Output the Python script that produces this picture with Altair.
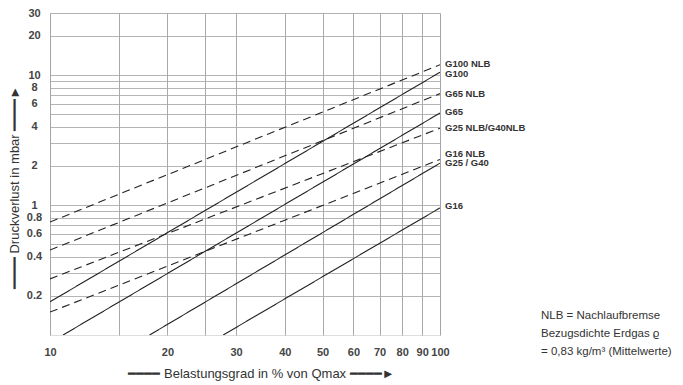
import altair as alt
import pandas as pd

# line endpoints (log-log, so straight lines)
series = ["G100", "G65", "G25 / G40", "G16", "G100 NLB", "G65 NLB", "G25 NLB/G40NLB", "G16 NLB"]
kind = ["solid", "solid", "solid", "solid", "dashed", "dashed", "dashed", "dashed"]
x_start = [10, 10.8, 18.0, 27.8, 10, 10, 10, 10]
y_start = [0.18, 0.1, 0.1, 0.1, 0.74, 0.45, 0.27, 0.15]
x_end = [100, 100, 100, 100, 100, 100, 100, 100]
y_end = [10.5, 5.1, 2.1, 0.95, 12.0, 7.2, 3.9, 2.24]

# right-hand labels
label_text = ["G100", "G65", "G25 / G40", "G16", "G100  NLB", "G65  NLB", "G25 NLB/G40NLB", "G16  NLB"]
label_y = [10.2, 5.22, 2.09, 0.98, 12.1, 7.16, 3.94, 2.49]

x_grid = [10, 15, 20, 25, 30, 40, 50, 60, 70, 80, 90, 100]
x_labels = [10, 20, 30, 40, 50, 60, 70, 80, 90, 100]
y_grid = [0.2, 0.3, 0.4, 0.5, 0.6, 0.7, 0.8, 0.9, 1, 2, 3, 4, 5, 6, 7, 8, 9, 10, 20, 30]
y_labels = [0.2, 0.4, 0.6, 0.8, 1, 2, 4, 6, 8, 10, 20, 30]

note = "NLB = Nachlaufbremse\nBezugsdichte Erdgas  ϱ\n= 0,83 kg/m³ (Mittelwerte)"

rows = []
for i, s in enumerate(series):
    rows.append({"series": s, "kind": kind[i], "x": x_start[i], "y": y_start[i]})
    rows.append({"series": s, "kind": kind[i], "x": x_end[i], "y": y_end[i]})
df = pd.DataFrame(rows)
lab_df = pd.DataFrame({"label": label_text, "x": [100] * len(label_text), "y": label_y})
note_df = pd.DataFrame({"t": [note]})

x_scale = alt.Scale(type="log", domain=[10, 100], nice=False)
y_scale = alt.Scale(type="log", domain=[0.1, 30], nice=False)

def lbl_expr(vals):
    return "indexof([" + ",".join(str(v) for v in vals) + "], datum.value) >= 0 ? datum.label : ''"

x_axis = alt.Axis(
    values=x_grid, labelExpr=lbl_expr(x_labels), format="~g",
    title="━━━━   Belastungsgrad in % von Qmax   ━━━━►",
    titleX=211, titleY=38, titleBaseline="middle", titleAlign="center",
    titleFontSize=13, titleFontWeight="normal", titleColor="#333",
    labelFontSize=11, labelFontWeight="bold", labelColor="#444", labelPadding=11,
    ticks=False, tickSize=0, domain=False, labelFlush=False, labelOverlap=False,
    grid=True, gridColor="#9a9aa4", gridOpacity=0.85, gridWidth=1,
)
y_axis = alt.Axis(
    values=y_grid, labelExpr=lbl_expr(y_labels), format="~g",
    title="━━━━   Druckverlust in mbar   ━━━━►",
    titleX=-36, titleY=174, titleBaseline="middle", titleAlign="center", titleAngle=-90,
    titleFontSize=13, titleFontWeight="normal", titleColor="#333",
    labelFontSize=11, labelFontWeight="bold", labelColor="#444", labelPadding=16,
    labelAlign="center", labelBaseline="middle",
    ticks=False, tickSize=0, domain=False, labelFlush=False, labelOverlap=False,
    grid=True, gridColor="#a8a8a8", gridOpacity=0.85, gridWidth=1,
)

lines = alt.Chart(df).mark_line(color="#222", strokeWidth=1.1, clip=True).encode(
    x=alt.X("x:Q", scale=x_scale, axis=x_axis),
    y=alt.Y("y:Q", scale=y_scale, axis=y_axis),
    detail="series:N",
    strokeDash=alt.StrokeDash("kind:N", scale=alt.Scale(domain=["solid", "dashed"], range=[[1, 0], [8, 5]]), legend=None),
)

labels = alt.Chart(lab_df).mark_text(align="left", baseline="middle", dx=5, fontSize=9.5,
                                     fontWeight="bold", color="#333", font="Liberation Sans").encode(
    x=alt.X("x:Q", scale=x_scale),
    y=alt.Y("y:Q", scale=y_scale),
    text="label:N",
)

notes = alt.Chart(note_df).mark_text(align="left", baseline="top", lineBreak="\n", lineHeight=18,
                                     fontSize=11.5, color="#333", font="Liberation Sans").encode(
    x=alt.value(491), y=alt.value(297), text="t:N",
)

chart = alt.layer(lines, labels, notes).properties(
    width=390, height=322,
    padding={"left": 42, "top": 5, "right": 235, "bottom": 48},
    autosize=alt.AutoSizeParams(type="none"),
).configure_view(stroke="#999", strokeWidth=1).configure(font="Liberation Sans")

chart.save("out.html", embed_options={"renderer": "svg", "actions": False})
